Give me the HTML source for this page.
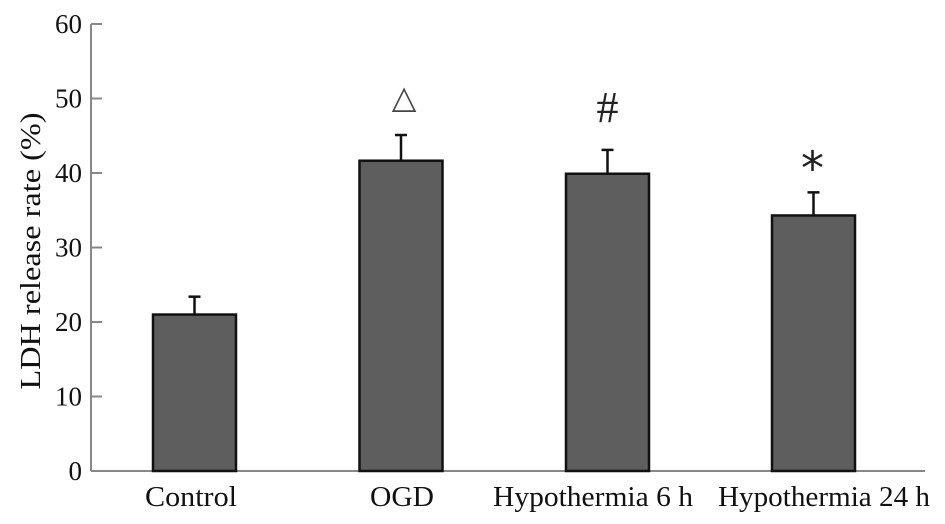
<!DOCTYPE html>
<html><head><meta charset="utf-8"><style>
html,body{margin:0;padding:0;background:#fff;}
svg{display:block;font-family:"Liberation Serif",serif;}
</style></head><body>
<svg id="chart" width="945" height="524" viewBox="0 0 945 524"></svg>
<script>
const categories = ["Control","OGD","Hypothermia 6 h","Hypothermia 24 h"];
const values = [21.0, 41.65, 39.9, 34.3];
const errors = [2.4, 3.45, 3.2, 3.1];
const marks = ["","\u25B3","#","*"];
const yTicks = [0,10,20,30,40,50,60];
const labelWidths = [92,64,200,212];

const NS="http://www.w3.org/2000/svg";
const svg=document.getElementById('chart');
const x0=91, x1=925, yZero=471, yTop=24, yMax=60;
const y=v=>yZero-(v/yMax)*(yZero-yTop);
const barW=83;
const centers=[194.5,401,607.5,813.5];
const labelCenters=[191,402,593,824];
const bx=i=>centers[i];
function mk(t,a){const e=document.createElementNS(NS,t);for(const k in a)e.setAttribute(k,a[k]);svg.appendChild(e);return e;}

let e=mk('line',{x1:x0,y1:yTop,x2:x0,y2:yZero,stroke:'#888','stroke-width':2});


e=mk('line',{x1:x0,y1:yZero,x2:x1,y2:yZero,stroke:'#888','stroke-width':2});



yTicks.forEach(t=>{
  let l=mk('line',{x1:x0,y1:y(t),x2:x0+11,y2:y(t),stroke:'#888','stroke-width':2});
  
  
  let tx=mk('text',{x:82,y:y(t)+9,'text-anchor':'end','font-size':27,fill:'#111'});
  tx.textContent=t;
  
  
});

let yl=mk('text',{x:0,y:0,'text-anchor':'middle','font-size':29,fill:'#111',textLength:277,lengthAdjust:'spacingAndGlyphs',transform:'translate(40,251) rotate(-90)'});
yl.textContent='LDH release rate (%)';



categories.forEach((c,i)=>{
  const cx=bx(i), top=y(values[i]), et=y(values[i]+errors[i]);
  let ln=mk('line',{x1:cx,y1:top,x2:cx,y2:et,stroke:'#111','stroke-width':2.5});
  
  
  let cap=mk('line',{x1:cx-6,y1:et,x2:cx+6,y2:et,stroke:'#111','stroke-width':2.5});
  
  
  let r=mk('rect',{x:cx-barW/2,y:top,width:barW,height:yZero-top,fill:'#5e5e5e',stroke:'#111','stroke-width':2.5});
  
  
  let lb=mk('text',{x:labelCenters[i],y:506,'text-anchor':'middle','font-size':28,fill:'#111',textLength:labelWidths[i],lengthAdjust:'spacingAndGlyphs'});
  lb.textContent=c;
  
  
  if(marks[i]){
    let m;
    if(marks[i]==='*'){
      m=mk('text',{x:cx-1,y:et-8,'text-anchor':'middle','font-size':46,fill:'#222','font-family':'"DejaVu Sans",sans-serif'});
    } else if(marks[i]==='#'){
      m=mk('text',{x:cx,y:et-28,'text-anchor':'middle','font-size':44,fill:'#222'});
    } else {
      m=mk('text',{x:cx+3,y:et-27,'text-anchor':'middle','font-size':32,fill:'#444','font-family':'"DejaVu Sans",sans-serif'});
    }
    m.textContent=marks[i];
    
    
  }
});
</script>
</body></html>
